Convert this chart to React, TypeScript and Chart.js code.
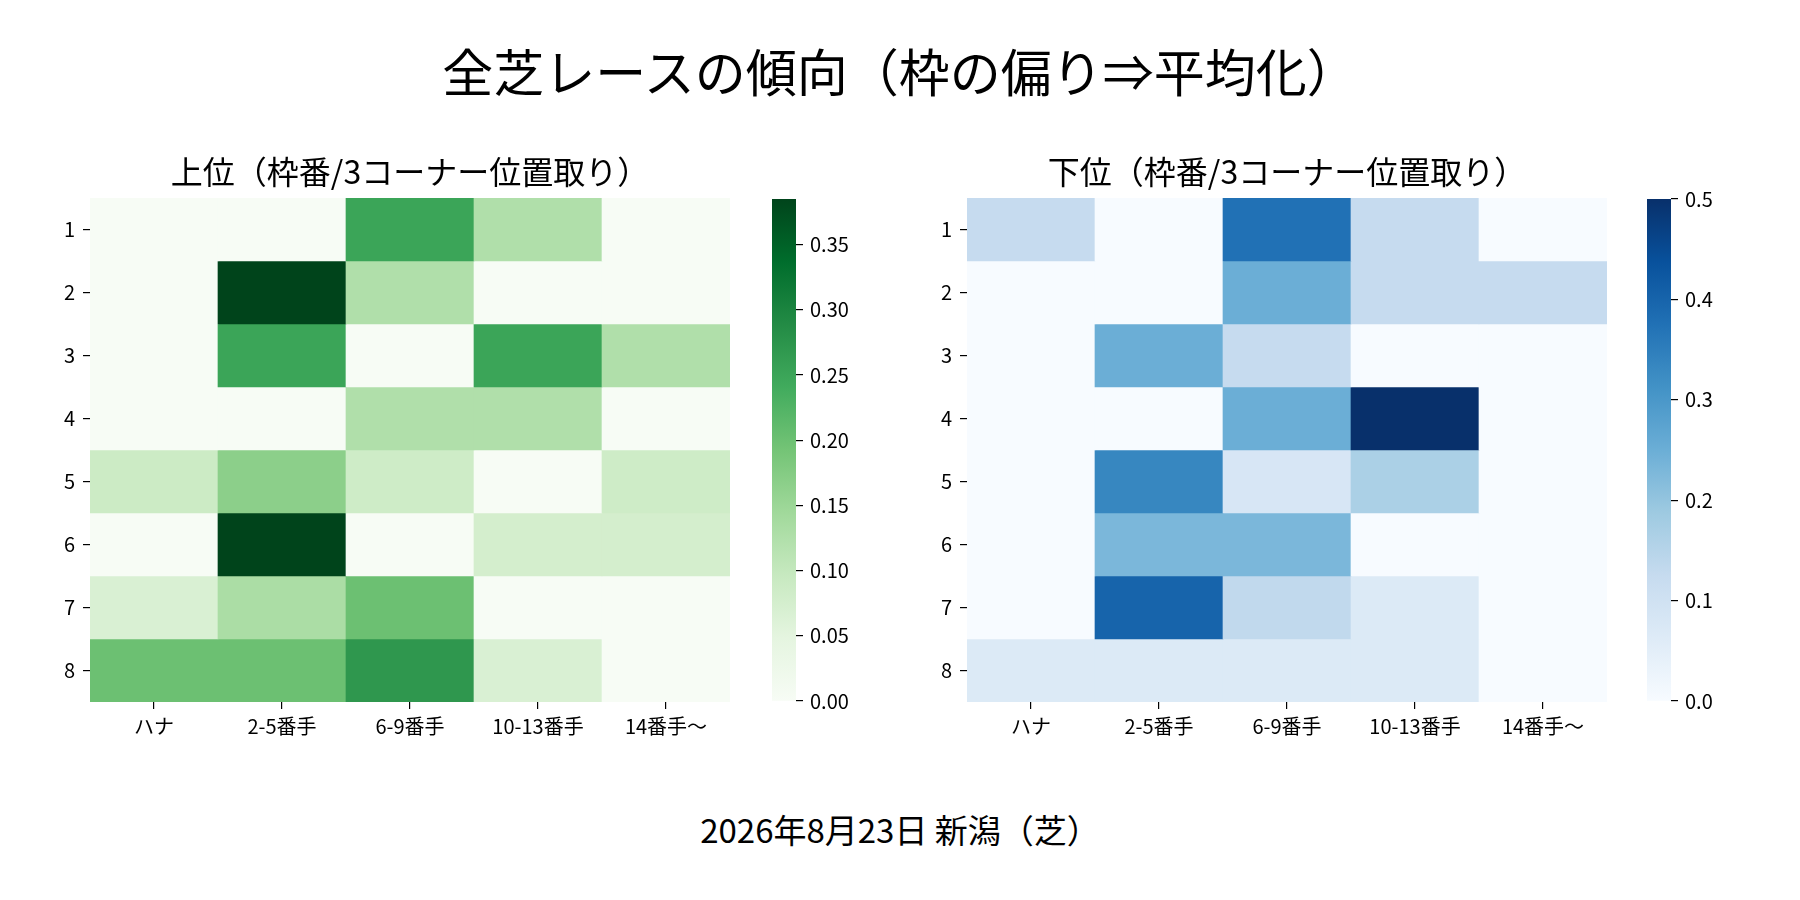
import { useEffect, useRef } from 'react';
import Chart from 'chart.js/auto';

// 脚質位置（3コーナー）
const positions = ['ハナ', '2-5番手', '6-9番手', '10-13番手', '14番手〜'];
const gates = [1, 2, 3, 4, 5, 6, 7, 8];

// 上位（rows = 枠番 1..8）
const upperRates = [
  [0, 0, 0.25, 0.125, 0],
  [0, 0.385, 0.125, 0, 0],
  [0, 0.25, 0, 0.25, 0.125],
  [0, 0, 0.125, 0.125, 0],
  [0.088, 0.167, 0.085, 0, 0.085],
  [0, 0.385, 0, 0.076, 0.076],
  [0.068, 0.132, 0.2, 0, 0],
  [0.2, 0.2, 0.27, 0.068, 0]
];

// 下位
const lowerRates = [
  [0.125, 0, 0.375, 0.125, 0],
  [0, 0, 0.25, 0.125, 0.125],
  [0, 0.25, 0.125, 0, 0],
  [0, 0, 0.25, 0.5, 0],
  [0, 0.333, 0.082, 0.167, 0],
  [0, 0.23, 0.23, 0, 0],
  [0, 0.4, 0.133, 0.067, 0],
  [0.067, 0.067, 0.067, 0.067, 0]
];

const upperMax = 0.385;
const lowerMax = 0.5;
const upperTicks = [0, 0.05, 0.1, 0.15, 0.2, 0.25, 0.3, 0.35];
const lowerTicks = [0, 0.1, 0.2, 0.3, 0.4, 0.5];

const GREENS = ['#f7fcf5', '#e5f5e0', '#c7e9c0', '#a1d99b', '#74c476', '#41ab5d', '#238b45', '#006d2c', '#00441b'];
const BLUES = ['#f7fbff', '#deebf7', '#c6dbef', '#9ecae1', '#6baed6', '#4292c6', '#2171b5', '#08519c', '#08306b'];

const FONT = '"Noto Sans CJK JP", "Noto Sans", sans-serif';
Chart.defaults.font.family = FONT;
Chart.defaults.color = '#000';

function hexToRgb(h: string) {
  const n = parseInt(h.slice(1), 16);
  return [(n >> 16) & 255, (n >> 8) & 255, n & 255];
}

function cmapColor(stops: string[], t: number) {
  const x = Math.max(0, Math.min(1, t)) * (stops.length - 1);
  const i = Math.min(Math.floor(x), stops.length - 2);
  const f = x - i;
  const a = hexToRgb(stops[i]);
  const b = hexToRgb(stops[i + 1]);
  const c = a.map((v, k) => Math.round(v + (b[k] - v) * f));
  return `rgb(${c[0]},${c[1]},${c[2]})`;
}

const tickFont = { size: 20, family: FONT };

interface PanelProps {
  title: string;
  rates: number[][];
  stops: string[];
  vmax: number;
  left: number;
}

function HeatmapPanel({ title, rates, stops, vmax, left }: PanelProps) {
  const canvasRef = useRef<HTMLCanvasElement>(null);

  useEffect(() => {
    const canvas = canvasRef.current;
    if (!canvas) return;

    const chart = new Chart(canvas, {
      type: 'bar',
      data: {
        labels: positions,
        datasets: gates.map((g, r) => ({
          label: String(g),
          data: positions.map(() => [g - 0.5, g + 0.5]),
          backgroundColor: rates[r].map((v) => cmapColor(stops, v / vmax)),
          borderWidth: 0,
          borderSkipped: false,
          grouped: false,
          barPercentage: 1,
          categoryPercentage: 1
        }))
      },
      options: {
        animation: false,
        responsive: false,
        maintainAspectRatio: false,
        layout: { padding: { right: 90 } },
        plugins: {
          legend: { display: false },
          tooltip: { enabled: false },
          title: {
            display: true,
            text: title,
            fullSize: false,
            color: '#000',
            font: { size: 32, weight: 'normal', family: FONT, lineHeight: 1.1 },
            padding: { top: 4, bottom: 8.8 }
          }
        },
        scales: {
          x: {
            type: 'category',
            afterFit: (s: any) => { s.height = 48; },
            border: { display: false },
            grid: { offset: false, drawOnChartArea: false, drawTicks: true, tickLength: 7, tickColor: '#000', lineWidth: 1.2 },
            ticks: { font: tickFont, color: '#000', padding: 5, maxRotation: 0 }
          },
          y: {
            type: 'linear',
            reverse: true,
            min: 0.5,
            max: 8.5,
            afterFit: (s: any) => { s.width = 90; },
            afterBuildTicks: (s: any) => { s.ticks = gates.map((g) => ({ value: g })); },
            border: { display: false },
            grid: { drawOnChartArea: false, drawTicks: true, tickLength: 7, tickColor: '#000', lineWidth: 1.2 },
            ticks: { font: tickFont, color: '#000', padding: 8, callback: (v: any) => String(v) }
          }
        }
      }
    });

    return () => chart.destroy();
  }, [title, rates, stops, vmax]);

  return (
    <canvas
      ref={canvasRef}
      width={820}
      height={600}
      style={{ position: 'absolute', left, top: 150, width: 820, height: 600 }}
    />
  );
}

interface BarProps {
  stops: string[];
  vmax: number;
  ticks: number[];
  digits: number;
  left: number;
}

function ColorBar({ stops, vmax, ticks, digits, left }: BarProps) {
  const canvasRef = useRef<HTMLCanvasElement>(null);

  useEffect(() => {
    const canvas = canvasRef.current;
    if (!canvas) return;

    const chart = new Chart(canvas, {
      type: 'bar',
      data: {
        labels: [''],
        datasets: [
          {
            data: [[0, vmax]],
            backgroundColor: (ctx: any) => {
              const area = ctx.chart.chartArea;
              if (!area) return stops[0];
              const g = ctx.chart.ctx.createLinearGradient(0, area.bottom, 0, area.top);
              stops.forEach((c, i) => g.addColorStop(i / (stops.length - 1), c));
              return g;
            },
            borderWidth: 0,
            barPercentage: 1,
            categoryPercentage: 1
          }
        ]
      },
      options: {
        animation: false,
        responsive: false,
        maintainAspectRatio: false,
        layout: { padding: { top: 18, bottom: 18 } },
        plugins: {
          legend: { display: false },
          tooltip: { enabled: false },
          title: { display: false }
        },
        scales: {
          x: { display: false },
          y: {
            type: 'linear',
            position: 'right',
            min: 0,
            max: vmax,
            afterFit: (s: any) => { s.width = 80; },
            afterBuildTicks: (s: any) => { s.ticks = ticks.map((t) => ({ value: t })); },
            border: { display: false },
            grid: { drawOnChartArea: false, drawTicks: true, tickLength: 7, tickColor: '#000', lineWidth: 1.2 },
            ticks: { font: tickFont, color: '#000', padding: 7, callback: (v: any) => Number(v).toFixed(digits) }
          }
        }
      }
    });

    return () => chart.destroy();
  }, [stops, vmax, ticks, digits]);

  return (
    <canvas
      ref={canvasRef}
      width={104}
      height={540}
      style={{ position: 'absolute', left, top: 180, width: 104, height: 540 }}
    />
  );
}

export default function App() {
  return (
    <div
      style={{
        position: 'absolute',
        left: 0,
        top: 0,
        width: 1800,
        height: 900,
        background: '#fff',
        fontFamily: FONT,
        color: '#000'
      }}
    >
      <div style={{ position: 'absolute', left: 0, width: 1800, top: 37, textAlign: 'center', fontSize: 51, lineHeight: '66px' }}>
        全芝レースの傾向（枠の偏り⇒平均化）
      </div>
      <HeatmapPanel title="上位（枠番/3コーナー位置取り）" rates={upperRates} stops={GREENS} vmax={upperMax} left={0} />
      <ColorBar stops={GREENS} vmax={upperMax} ticks={upperTicks} digits={2} left={772} />
      <HeatmapPanel title="下位（枠番/3コーナー位置取り）" rates={lowerRates} stops={BLUES} vmax={lowerMax} left={877} />
      <ColorBar stops={BLUES} vmax={lowerMax} ticks={lowerTicks} digits={1} left={1647} />
      <div style={{ position: 'absolute', left: 0, width: 1800, top: 809, textAlign: 'center', fontSize: 33, lineHeight: '40px' }}>
        2026年8月23日 新潟（芝）
      </div>
    </div>
  );
}
